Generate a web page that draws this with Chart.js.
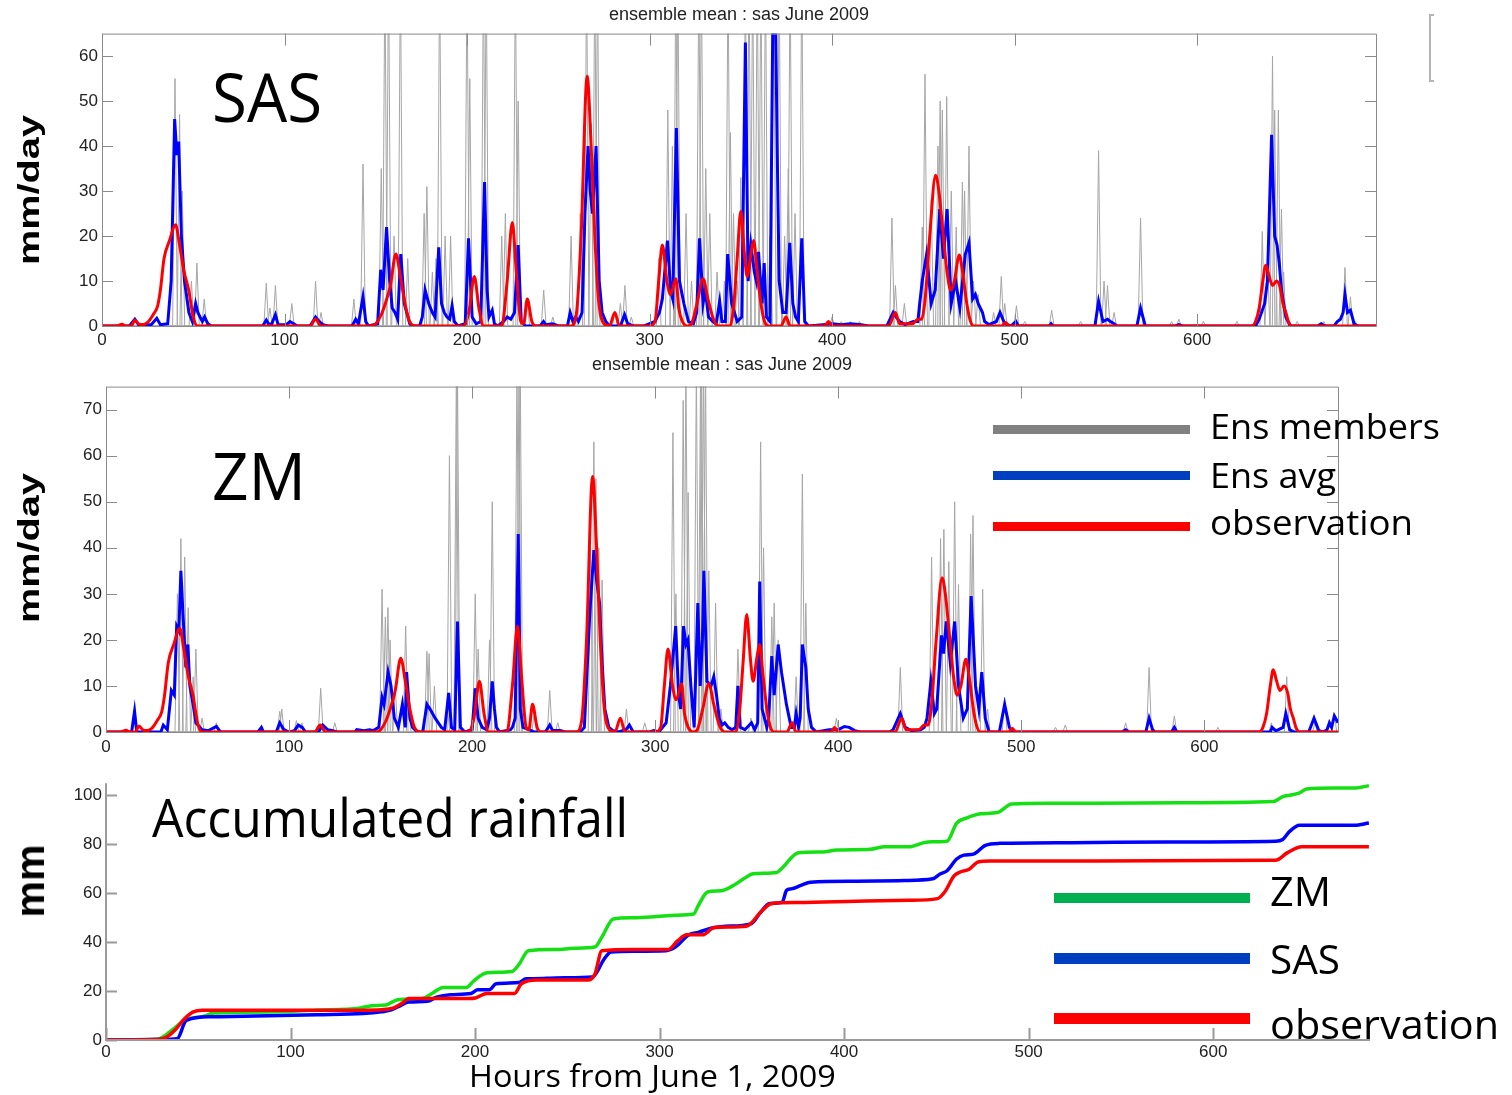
<!DOCTYPE html>
<html>
<head>
<meta charset="utf-8">
<script src="https://cdn.jsdelivr.net/npm/chart.js@4.4.1/dist/chart.umd.min.js"></script>
<style>
html,body{margin:0;padding:0;background:#fff;}
body{width:1512px;height:1095px;position:relative;overflow:hidden;}
canvas{position:absolute;}
.lbl{position:absolute;white-space:nowrap;line-height:1;transform-origin:0 0;color:#000;}
.rot{position:absolute;white-space:nowrap;line-height:1;color:#000;font-family:"Liberation Sans",Arial,sans-serif;font-weight:bold;}
.swatch{position:absolute;}
</style>
</head>
<body>
<canvas id="sasChart" style="left:40px;top:0px;width:1360px;height:355px" width="1360" height="355"></canvas>
<canvas id="zmChart" style="left:40px;top:350px;width:1310px;height:412px" width="1310" height="412"></canvas>
<canvas id="accChart" style="left:40px;top:769px;width:1340px;height:300px" width="1340" height="300"></canvas>
<div style="position:absolute;left:1429px;top:14px;width:3px;height:64px;border:2px solid #b4b4b4;border-right:none"></div>
<script>
// ---- data (hour, mm/day) ----
const panelTitle = 'ensemble mean : sas June 2009';
const hourTicks = [0, 100, 200, 300, 400, 500, 600];

// observed rain rate, same curve in both upper panels
const obsRate = [[0,0],[8,0],[11,0.4],[13,0],[16,0],[18,1.3],[20,0.5],[22,0.3],[25,0.8],[28,2.5],[30.5,4.5],[32,8],[34,15],[37,19],[40.3,22.5],[42.5,18],[45,12],[47.5,8],[50,2],[52.5,0],
  [114,0],[117,1.5],[120,0],[147,0],[150,0.5],[153,2.5],[156,6],[158,9],[161,16],[163.5,11],[166,5],[168.5,1],[172,0],
  [198,0],[201,3],[204,11],[206.5,4],[209,0],[219,0],[222,10],[224.8,23],[227,12],[229.5,1],[231,0.5],[233,6],[235.5,1],[238,0],
  [257,0],[260,3],[262.5,20],[265.8,55.5],[268,40],[270,20],[272,6],[275,0.5],[278,0],[281,3],[283.5,0],
  [300,0],[303,1],[305,10],[307,18],[309.5,10],[311.5,7],[314.4,10.5],[316,4],[318,1],[321,0],[323,0.5],[326,5],[329.3,10.5],[332,6],[335,1.5],[338,0],
  [344,0],[346,4],[348,15],[350,25.5],[352,16],[353.5,11],[355.5,16],[357,19],[359,12],[361,5],[363,1],[365,0],[372,0],[374.8,2],[377,0],[396,0],[398,1],[400,0],
  [431,0],[434.7,3],[437,0.5],[444,0.5],[447,1.5],[449,1.5],[451,6],[453.5,20],[456.7,33.5],[458.5,30],[460.5,22],[463,12],[465,8],[467,10],[469.7,15.8],[471.5,12],[473.8,5],[475.5,1.5],[477.5,0],
  [493,0],[495,0.8],[497,0],[630,0],[632,1],[634,4],[636,10],[637.6,13.5],[639.5,11],[641.3,9],[643.5,10],[645.5,8.5],[647,5],[648.6,3],[650,1],[652,0],[698,0]];

// SAS ensemble average
const sasAvg = [[0,0],[15,0],[18,1.5],[20,0.3],[27,0.3],[30,1.7],[32,0.3],[36,0.5],[37.9,10],[39.8,46],[41,38],[42,41],[43.5,20],[45.2,10],[47.6,3],[49.5,1],[51.3,5],[52.5,3],[53.7,2],[55,1],[56.2,2],[58,0.5],[60,0],
  [88,0],[90,1.3],[91.5,0.3],[93,0.5],[95,2.5],[96.5,0.3],[101,0.3],[103,1],[105,0.5],[107,0],[114,0],[117,2],[119,1],[121,0.3],[124,0],
  [137,0],[139,1.5],[140.5,0.5],[143,6.5],[144.5,1],[146,0],[151,0.5],[152.7,12.5],[154,8],[155.9,22],[157.6,10],[159,4],[160.5,3],[162,1.5],[163.7,16],[165.6,5],[168.6,0.5],[170,0],
  [174,0],[175.5,2],[177,8],[179,5],[181,3],[182.5,2],[184.5,17.5],[186,5],[187.5,3],[189,2],[190.5,1.5],[191.8,4.5],[193,1],[195,0],
  [199,0.5],[200.8,19.5],[202.8,2],[205,0.5],[207.5,1],[209.6,32],[211,8],[212,2],[213.8,3.5],[215,0.5],[217,0],[220,1],[222,2],[224,1.5],[226,3],[228,18],[229.7,1],[232,0],
  [240,0],[241.9,1],[243,0.3],[247,0.5],[250,0],[255,0],[256.5,3],[258,1],[259.5,2],[261,1],[263,3],[264.6,25],[266.3,40],[267.5,30],[268.7,25],[270.7,40],[272.4,10],[274,3],[276,1],[278,0],
  [284,0],[286.3,2.5],[288,0.5],[291,0],[297,0],[300,0.5],[303,1],[305.4,3],[307,6],[309.8,19],[311.5,8],[312.7,6],[314.7,44],[316.4,10],[318.8,5],[321.3,1],[324,0.5],[325.8,3],[327.4,19.5],[329.3,5],[330.5,8],[332.3,2],[334.7,1],[336.5,0.5],
  [338.4,5.5],[339.6,1],[341.5,1],[342.8,16],[345,5],[348,1],[350.5,2],[352.5,63],[354,10],[355.5,18],[357.4,12],[358.5,10],[359.7,16.5],[361.6,5],[362.8,14],[364,2],[366,1],[367.8,80],[369,70],[369.9,40],[371,10],[373,3],[374.8,3],[376.8,18.5],[378.5,5],[380,2],[381.5,1],[383.4,19.5],[385,1],[387,0],
  [395,0.3],[400,0.5],[405,0.3],[410,0.5],[416,0.3],[420,0],[430,0],[433.5,3],[435,2],[437,1],[440,0.3],[444.5,1],[447,1],[448,5],[449.4,10],[451.8,16],[454.3,5],[456.5,8],[459,26],[461,15],[463,26],[465.3,5],[467.7,10],[470,4],[473,16],[475,18.5],[477,6],[478.5,7],[480,5],[482.4,3],[483.6,1],[486,0.3],
  [490,1],[492,3],[494.6,0.5],[498,0],[500.7,1],[502,0],[519,0],[520,0.5],[521,0],[544,0],[546,5.5],[548.4,1],[550.9,1.5],[552.5,1],[554.5,0.5],[556,0],[567,0],[569,4],[571.6,0],[588,0],[590,0.3],[592,0],
  [632,0],[634,1.5],[637,5],[638.5,10],[640.8,42.5],[642.5,20],[643.8,18],[645,14],[646.2,8],[648.6,2],[651,0],[666,0],[668,0.5],[670,0],[675,0],[676.8,1],[678.5,1.5],[680,3],[681,7],[682.4,3],[684,3.5],[686,0.5],[688,0],[698,0]];

// ZM ensemble average
const zmAvg = [[0,0],[14,0],[15.6,4.5],[16.8,0],[30,0],[31.3,1.5],[33.5,0.5],[35.7,9],[37.3,8],[38.6,23],[39.8,22],[40.9,35],[42,26],[43.6,14],[44.7,19],[45.8,10],[48,5],[49.1,2],[52.5,0.5],[56,0.3],[60.3,1.2],[62.5,0],
  [83,0],[84.9,1],[86,0],[93,0],[94.9,2],[97.2,0.5],[100,0],[103,0.3],[105,1.5],[107.2,1],[109,0],[116,0],[118.4,1.5],[121,0.5],[124,0.3],[126,0],
  [136,0],[137,0.5],[141,0.3],[144,0.5],[146,0.3],[149,1],[150.8,7.5],[151.9,6],[154.1,13],[155.7,10],[157.5,3],[159.7,1],[161.9,6],[163.5,1],[164.2,13],[166,3],[167.5,1],[170,0],
  [173,0],[175.3,6],[177,5],[179.8,3],[183.2,1],[185,0.5],[187.2,8.5],[188.7,1],[190.5,0.5],[192,24],[193.6,1],[196,0],[200,0.5],[201.7,9.5],[203.3,3],[205.5,1],[208,0.5],[209.5,3],[211,11],[212.2,5],[213.3,1],[215,0],
  [221,0.5],[222,1],[223.5,3],[225.2,43],[226.3,5],[227.8,1],[231.2,0.5],[234,0],[240,0],[242.4,1.5],[244,0.3],[248,0.3],[251,0],
  [259,0],[261.3,1],[264.2,25],[266.5,39.5],[268,33],[269.6,28],[271,15],[272.5,5],[274.7,1],[277,0.3],[280,0],[284,0.5],[285.9,1.5],[288,0],[297,0],[299.3,0.3],[302,0],
  [306,2],[308.3,10],[311.2,23],[312.8,8],[313.9,5],[315.5,23],[316.8,19],[317.9,20],[319.5,10],[321.3,1],[323.3,28],[324.6,10],[325.8,20],[326.6,35],[328.3,11],[330.5,10],[332,12],[333.5,8],[335,3],[336.5,1.5],[338,2],[339.9,1],[342,0.5],
  [344,1],[345.2,10],[346.5,1],[349,0.5],[352.6,2],[354.4,0.5],[356,2],[357.1,32.7],[358.4,5],[361,1],[362,3],[363.7,16.5],[365,8],[367.2,19],[369,13],[371.7,6],[374.3,1],[376,1],[377,4],[378.3,1],[379.2,3],[380.4,19],[382.3,14],[383.6,5],[385.4,1],[388,0],
  [395,0.5],[400,0.5],[403.4,1.2],[406,1],[409,0.3],[412,0],[428,0],[430,0.5],[433.9,4],[436.6,1],[440,0.3],[445,0.5],[447,1],[448.5,3],[450.6,11],[452.5,4],[453.8,5],[456.4,21],[457.5,17],[459,24],[461.2,15],[463.6,24],[465.7,10],[468.3,3],[470.5,5],[472.6,29.5],[475,10],[476.8,5],[478.4,13],[480.3,3],[482.4,0],
  [488,0],[490.9,6],[493.5,1],[495,0],[555,0],[557,0.5],[559,0],[568,0],[569.8,3],[571.7,0.5],[573,0],[582,0],[583.6,1],[585,0],
  [636,0],[637,1],[639,0.3],[640.5,0.5],[643,1],[644.5,4],[646.6,0.5],[649,0],[657,0],[659.9,3],[662.5,0.3],[665,0],[667,0.5],[668.3,2],[669.5,1],[671,3.5],[673,2]];

// ensemble member peaks (hour, peak); values above the axis top are clipped
const sasMemberPeaks = [[40,55],[42.5,47],[44,30],[49,10],[52,14],[56,6],[90,9.5],[92,4],[95,9],[104,5],[117,10],[120,3],
  [138,6],[143,36],[153,35],[155,80],[157,80],[160,20],[163.5,80],[167.5,15],[176.5,25],[178,31],[181,12],[183,15],[185,80],[188,20],[191,20],
  [200,80],[201.5,55],[209,80],[210.5,80],[219,20],[221,25],[226.5,80],[228,50],[233,5],[242,8],[247,2],[257,20],[262,25],[265.5,80],[268,45],[270,80],[271.5,80],
  [281,3],[284,5],[286.5,9],[290,2],[305,15],[310,48],[312.5,40],[314.4,80],[315.5,80],[320,25],[323,10],[327,80],[328.4,80],[330.8,35],[333,25],[337,12],
  [341,10],[343,80],[344.3,43],[346,25],[348,10],[350,33],[352.5,80],[354.5,80],[356.5,80],[359,80],[361,80],[363.5,80],[366,20],[368,80],[371,80],[374,20],[376,35],[377,80],[379.7,25],[383.4,80],
  [400,2],[405,1],[410,1],[415,1],[432.8,24],[434.7,9],[439.6,5],[449.4,22],[450.9,56],[454.3,28],[458,40],[459.2,50],[460.4,48],[462.8,51],[465.3,30],[468,22],[471.4,32],[472.6,30],[475,40],[477.5,10],[480,7],
  [488.5,3],[492.7,11],[494.6,5],[501,4.5],[505.6,1],[520.3,3.5],[536.2,1],[546,39],[549,10],[550.9,9],[554.5,3],[569,24],[586,1],[590,1.5],[603.4,1],[621.8,1],
  [635.7,21],[638.5,15],[641.3,60],[642.5,48],[644.5,48],[646.2,26],[647.4,12],[654.8,1],[669.4,1],[681,13],[684,6.5],[686.6,1]];

const zmMemberPeaks = [[15.6,3],[39,30],[40.9,42],[43,38],[44.9,27],[47.6,12],[49.1,18],[52.5,3],[60.3,2],[94.9,4.5],[96,5],[104,2.5],[107,2],[117.3,9.5],[125,2],
  [150.8,31],[152.6,25],[154,27],[155.2,20],[158,10],[163.7,23],[165.3,10],[175.3,17.5],[176.5,17],[179.4,10],[186.5,5],[187.6,60],[191.4,80],[192,80],
  [201.7,30],[203.3,18],[209.5,20],[211,50],[224.5,80],[225.6,80],[226.3,80],[233.9,4],[242.4,9],[246.8,2],[264.7,40],[266.5,63],[267.6,55],[269.2,40],[271,33],[284.3,5],[294.3,2],
  [309.7,65],[311.3,30],[315.3,72],[316.8,80],[318,52],[322.5,80],[324.8,80],[325.3,80],[326.4,80],[327.5,80],[329.3,35],[333,28],[335.9,5],[345.2,18],[352.3,3],[357.6,63],[359.2,40],[363.7,25],[365,28],[367.2,20],[377,12],[380.4,56],[382.3,28],
  [399,3],[433.9,14],[451,38],[455.9,42],[457.7,44],[460.4,37],[463.6,50],[465.7,32],[472.3,43],[473.6,47],[478.9,31],[481.6,5],[490.9,7.5],[518.7,1],[524,1.5],[557,2],[569.8,14],[583.6,3.5],[607.4,1],[636.6,2],[645,12],[660.4,2],[671,4]];

// accumulated rainfall (hour, mm)
const accZM = [[0,0],[28,0.3],[32.3,2],[37.3,5],[43.5,8.5],[52,9.5],[58.5,11],[74.6,11.3],[99.5,11.7],[114,12.2],[137,13],[144,14],[151.7,14.3],[158,16.5],[166.7,16.8],[171.6,17],[176.6,19],[182.8,21.5],[195.3,21.5],[199,24],[206.5,27.5],[220,28],[223.9,31],[228.9,36.5],[243.8,37],[253.7,37.5],[264.9,38],[268.7,42],[274.9,49.5],[286,50],[298.5,50.5],[308.5,51],[318.4,51.5],[321,55],[326,60.5],[333.3,61],[339.6,63],[345.8,66],[350.7,68],[363.6,68.5],[366,70],[375.3,76.6],[388.3,76.9],[396,77.7],[414.3,78],[422,79],[435,79],[445.5,81],[455.8,81.3],[461,88.7],[466.2,90.7],[474,92.5],[483,93],[490.9,96.5],[510.4,96.8],[536.4,96.8],[583,97],[632.5,97.5],[637.7,99.5],[642.3,100.2],[646.8,101],[650.6,102.6],[666,103],[676.6,103],[684.4,104]];
const accSAS = [[0,0],[34.8,0.3],[38.6,0.5],[43.5,8],[57.2,9.5],[74.6,9.7],[94.5,10],[114.4,10.3],[139.3,10.8],[149.3,11.5],[154.2,12.2],[158,13.5],[164.2,15.5],[174.1,15.8],[179.1,17.5],[186.6,18.5],[197.8,19],[201.5,20.5],[207.7,20.5],[211.4,23],[223.9,23.5],[227.6,25],[238.8,25.2],[248.8,25.5],[263.7,25.8],[269.9,33],[273.6,36],[286,36.3],[303.5,36.5],[308.5,38],[316,43],[321,44],[328.4,45.8],[335.8,46.5],[349.5,47.5],[354.5,52],[359.7,55.8],[366.5,56.4],[368.8,61.2],[371.4,61.8],[376.6,63.2],[381.8,64.5],[406.5,64.9],[432.5,65.2],[448,65.9],[452,67.9],[455.8,69.2],[461,74],[464.9,75.6],[470.1,76],[476.6,79.6],[484.4,80.4],[523.4,80.7],[575.3,81],[633.8,81.3],[637.7,82],[641.6,85.4],[646.8,87.8],[676.6,87.8],[684.4,88.7]];
const accObs = [[0,0],[28,0.2],[32.3,1],[37.3,4],[42.3,8.5],[47.3,11.5],[52.2,12.2],[137,12.2],[149.3,12.4],[155.5,13],[160.4,15],[164.2,17],[196.5,17],[200.2,17.2],[206.5,19],[221.4,19],[225.1,23],[233.8,24.5],[261.2,24.5],[265,27],[268.7,36.5],[286,37],[304.7,37],[309.7,40.5],[314.7,43],[323.4,43],[329.6,46],[347,46.5],[355.7,53],[360.7,55.8],[375.3,56.2],[406.5,56.7],[435,57.1],[450.6,57.8],[454.5,60.5],[459.7,67.2],[463.6,68.9],[467.5,69.7],[472.7,72.8],[479.2,73.2],[536.4,73.2],[633.8,73.5],[640.3,76.6],[648.1,79],[684.4,79]];

const rateLegend = ['Ens members', 'Ens avg', 'observation'];
const accLegend = ['ZM', 'SAS', 'observation'];

// ---- drawing ----
const GRAY = '#a6a6a6', BLUE = '#0000ff', RED = '#ff0000', GREEN = '#14e014';
const tickFont = {family: '"Liberation Sans", Arial, sans-serif', size: 17};

const toXY = arr => arr.map(p => ({x: p[0], y: p[1]}));
const fixedHourTicks = s => { s.ticks = hourTicks.map(v => ({value: v})); };

// split the member peaks over a few thin lines so each peak is its own spike
function memberLines(peaks, n, end){
  const lines = Array.from({length: n}, () => [{x: 0, y: 0}]);
  peaks.forEach((p, i) => {
    lines[i % n].push({x: p[0] - 1.3, y: 0}, {x: p[0], y: p[1]}, {x: p[0] + 1.3, y: 0});
  });
  lines.forEach(l => l.push({x: end, y: 0}));
  return lines;
}

// MATLAB-like frame with inward tick marks
const axesFrame = {
  id: 'axesFrame',
  afterDraw(chart, args, o){
    const {ctx, chartArea: a} = chart;
    const x = chart.scales.x, y = chart.scales.y;
    ctx.save();
    ctx.strokeStyle = o.color; ctx.lineWidth = o.width;
    ctx.beginPath();
    if(o.box){ ctx.rect(a.left + 0.5, a.top + 0.5, a.right - a.left, a.bottom - a.top); }
    else { ctx.moveTo(a.left, a.top); ctx.lineTo(a.left, a.bottom); ctx.lineTo(a.right, a.bottom); }
    x.ticks.forEach(t => {
      const px = Math.round(x.getPixelForValue(t.value)) + 0.5;
      ctx.moveTo(px, a.bottom); ctx.lineTo(px, a.bottom - o.xLen);
      if(o.box){ ctx.moveTo(px, a.top); ctx.lineTo(px, a.top + o.xLen); }
    });
    y.ticks.forEach(t => {
      const py = Math.round(y.getPixelForValue(t.value)) + 0.5;
      ctx.moveTo(a.left, py); ctx.lineTo(a.left + o.yLen, py);
      if(o.box){ ctx.moveTo(a.right, py); ctx.lineTo(a.right - o.yLen, py); }
    });
    ctx.stroke();
    ctx.restore();
  }
};

const noGrid = {display: false, drawTicks: false, tickLength: 0};

function rateChart(id, avg, peaks, xMax, yMax, yW, xH, pad, titlePad, xPad){
  const ds = [
    {label: 'observation', data: toXY(obsRate), borderColor: RED, borderWidth: 3, cubicInterpolationMode: 'monotone'},
    {label: 'Ens avg', data: toXY(avg), borderColor: BLUE, borderWidth: 3, tension: 0}
  ];
  memberLines(peaks, 4, xMax).forEach(l => ds.push({label: 'Ens members', data: l, borderColor: GRAY, borderWidth: 1, tension: 0}));
  return new Chart(document.getElementById(id), {
    type: 'line',
    data: {datasets: ds},
    options: {
      responsive: false, animation: false, events: [],
      elements: {point: {radius: 0}},
      layout: {padding: pad},
      plugins: {
        legend: {display: false}, tooltip: {enabled: false},
        title: {display: true, text: panelTitle, fullSize: false, color: '#222',
          font: {family: tickFont.family, size: 18, weight: 'normal'}, padding: titlePad},
        axesFrame: {box: true, color: '#8a8a8a', width: 1, xLen: 12, yLen: 11}
      },
      scales: {
        x: {type: 'linear', min: 0, max: xMax, grid: noGrid, border: {display: false},
          afterBuildTicks: fixedHourTicks,
          ticks: {font: tickFont, color: '#222', padding: xPad, maxRotation: 0},
          afterFit: s => { s.height = xH; }},
        y: {min: 0, max: yMax, grid: noGrid, border: {display: false},
          ticks: {stepSize: 10, includeBounds: false, font: tickFont, color: '#222', padding: 4},
          afterFit: s => { s.width = yW; }}
      }
    },
    plugins: [axesFrame]
  });
}

rateChart('sasChart', sasAvg, sasMemberPeaks, 698, 65, 62, 29, {left: 0, right: 24, top: 0, bottom: 0}, {top: 4, bottom: 8}, 4);
rateChart('zmChart', zmAvg, zmMemberPeaks, 673, 75, 66, 30, {left: 0, right: 12, top: 0, bottom: 0}, {top: 4, bottom: 11}, 5);

new Chart(document.getElementById('accChart'), {
  type: 'line',
  data: {datasets: [
    {label: 'observation', data: toXY(accObs), borderColor: RED, borderWidth: 3.5, cubicInterpolationMode: 'monotone'},
    {label: 'SAS', data: toXY(accSAS), borderColor: BLUE, borderWidth: 3.5, cubicInterpolationMode: 'monotone'},
    {label: 'ZM', data: toXY(accZM), borderColor: GREEN, borderWidth: 3.5, cubicInterpolationMode: 'monotone'}
  ]},
  options: {
    responsive: false, animation: false, events: [],
    elements: {point: {radius: 0}},
    layout: {padding: {left: 0, right: 10, top: 10, bottom: 0}},
    plugins: {legend: {display: false}, tooltip: {enabled: false},
      axesFrame: {box: false, color: '#9a9a9a', width: 2, xLen: 12, yLen: 11}},
    scales: {
      x: {type: 'linear', min: 0, max: 685, grid: noGrid, border: {display: false},
        afterBuildTicks: fixedHourTicks,
        ticks: {font: tickFont, color: '#222', padding: 2, maxRotation: 0},
        afterFit: s => { s.height = 29; }},
      y: {min: 0, max: 105, grid: noGrid, border: {display: false},
        ticks: {stepSize: 20, includeBounds: false, font: tickFont, color: '#222', padding: 4},
        afterFit: s => { s.width = 66; }}
    }
  },
  plugins: [axesFrame]
});

// ---- text overlays ----
const SANS = '"Open Sans", "Noto Sans", sans-serif';
function label(text, x, base, size, width){
  const d = document.createElement('div');
  d.className = 'lbl';
  d.textContent = text;
  d.style.fontFamily = SANS;
  d.style.fontSize = size + 'px';
  d.style.left = x + 'px';
  d.style.top = (base - 0.888 * size) + 'px';
  document.body.appendChild(d);
  const w = d.getBoundingClientRect().width;
  d.style.transform = 'scaleX(' + (width / w).toFixed(3) + ')';
}
function yTitle(text, cx, cy, size, len){
  const d = document.createElement('div');
  d.className = 'rot';
  d.textContent = text;
  d.style.fontSize = size + 'px';
  d.style.left = cx + 'px';
  d.style.top = cy + 'px';
  document.body.appendChild(d);
  const w = d.getBoundingClientRect().width;
  d.style.transform = 'translate(-50%,-50%) rotate(-90deg) scaleX(' + (len / w).toFixed(3) + ')';
}
function swatch(color, x, cy, w, h){
  const d = document.createElement('div');
  d.className = 'swatch';
  d.style.cssText += `left:${x}px;top:${cy - h / 2}px;width:${w}px;height:${h}px;background:${color}`;
  document.body.appendChild(d);
}

label('SAS', 212, 122, 68, 110);
label('ZM', 212, 500, 66, 94);
label('Accumulated rainfall', 152, 837, 53, 476);
label('Hours from June 1, 2009', 469, 1088, 31, 367);

yTitle('mm/day', 29, 190, 30, 150);
yTitle('mm/day', 29, 548, 30, 150);
yTitle('mm', 30, 881, 40, 73);

const rateLegendColors = ['#808080', '#0040c0', '#ff0000'];
const rateLegendY = [429, 475.5, 526.5], rateLegendBase = [439, 488, 535], rateLegendW = [230, 126, 203];
rateLegend.forEach((t, i) => {
  swatch(rateLegendColors[i], 993, rateLegendY[i], 197, 9);
  label(t, 1210, rateLegendBase[i], 35, rateLegendW[i]);
});
const accLegendColors = ['#00b050', '#0040c0', '#ff0000'];
const accLegendY = [898, 958.7, 1018.7], accLegendBase = [906.7, 975, 1039.3], accLegendW = [61, 70, 229];
accLegend.forEach((t, i) => {
  swatch(accLegendColors[i], 1054, accLegendY[i], 196, 10.5);
  label(t, 1270, accLegendBase[i], 40, accLegendW[i]);
});
</script>
</body>
</html>
